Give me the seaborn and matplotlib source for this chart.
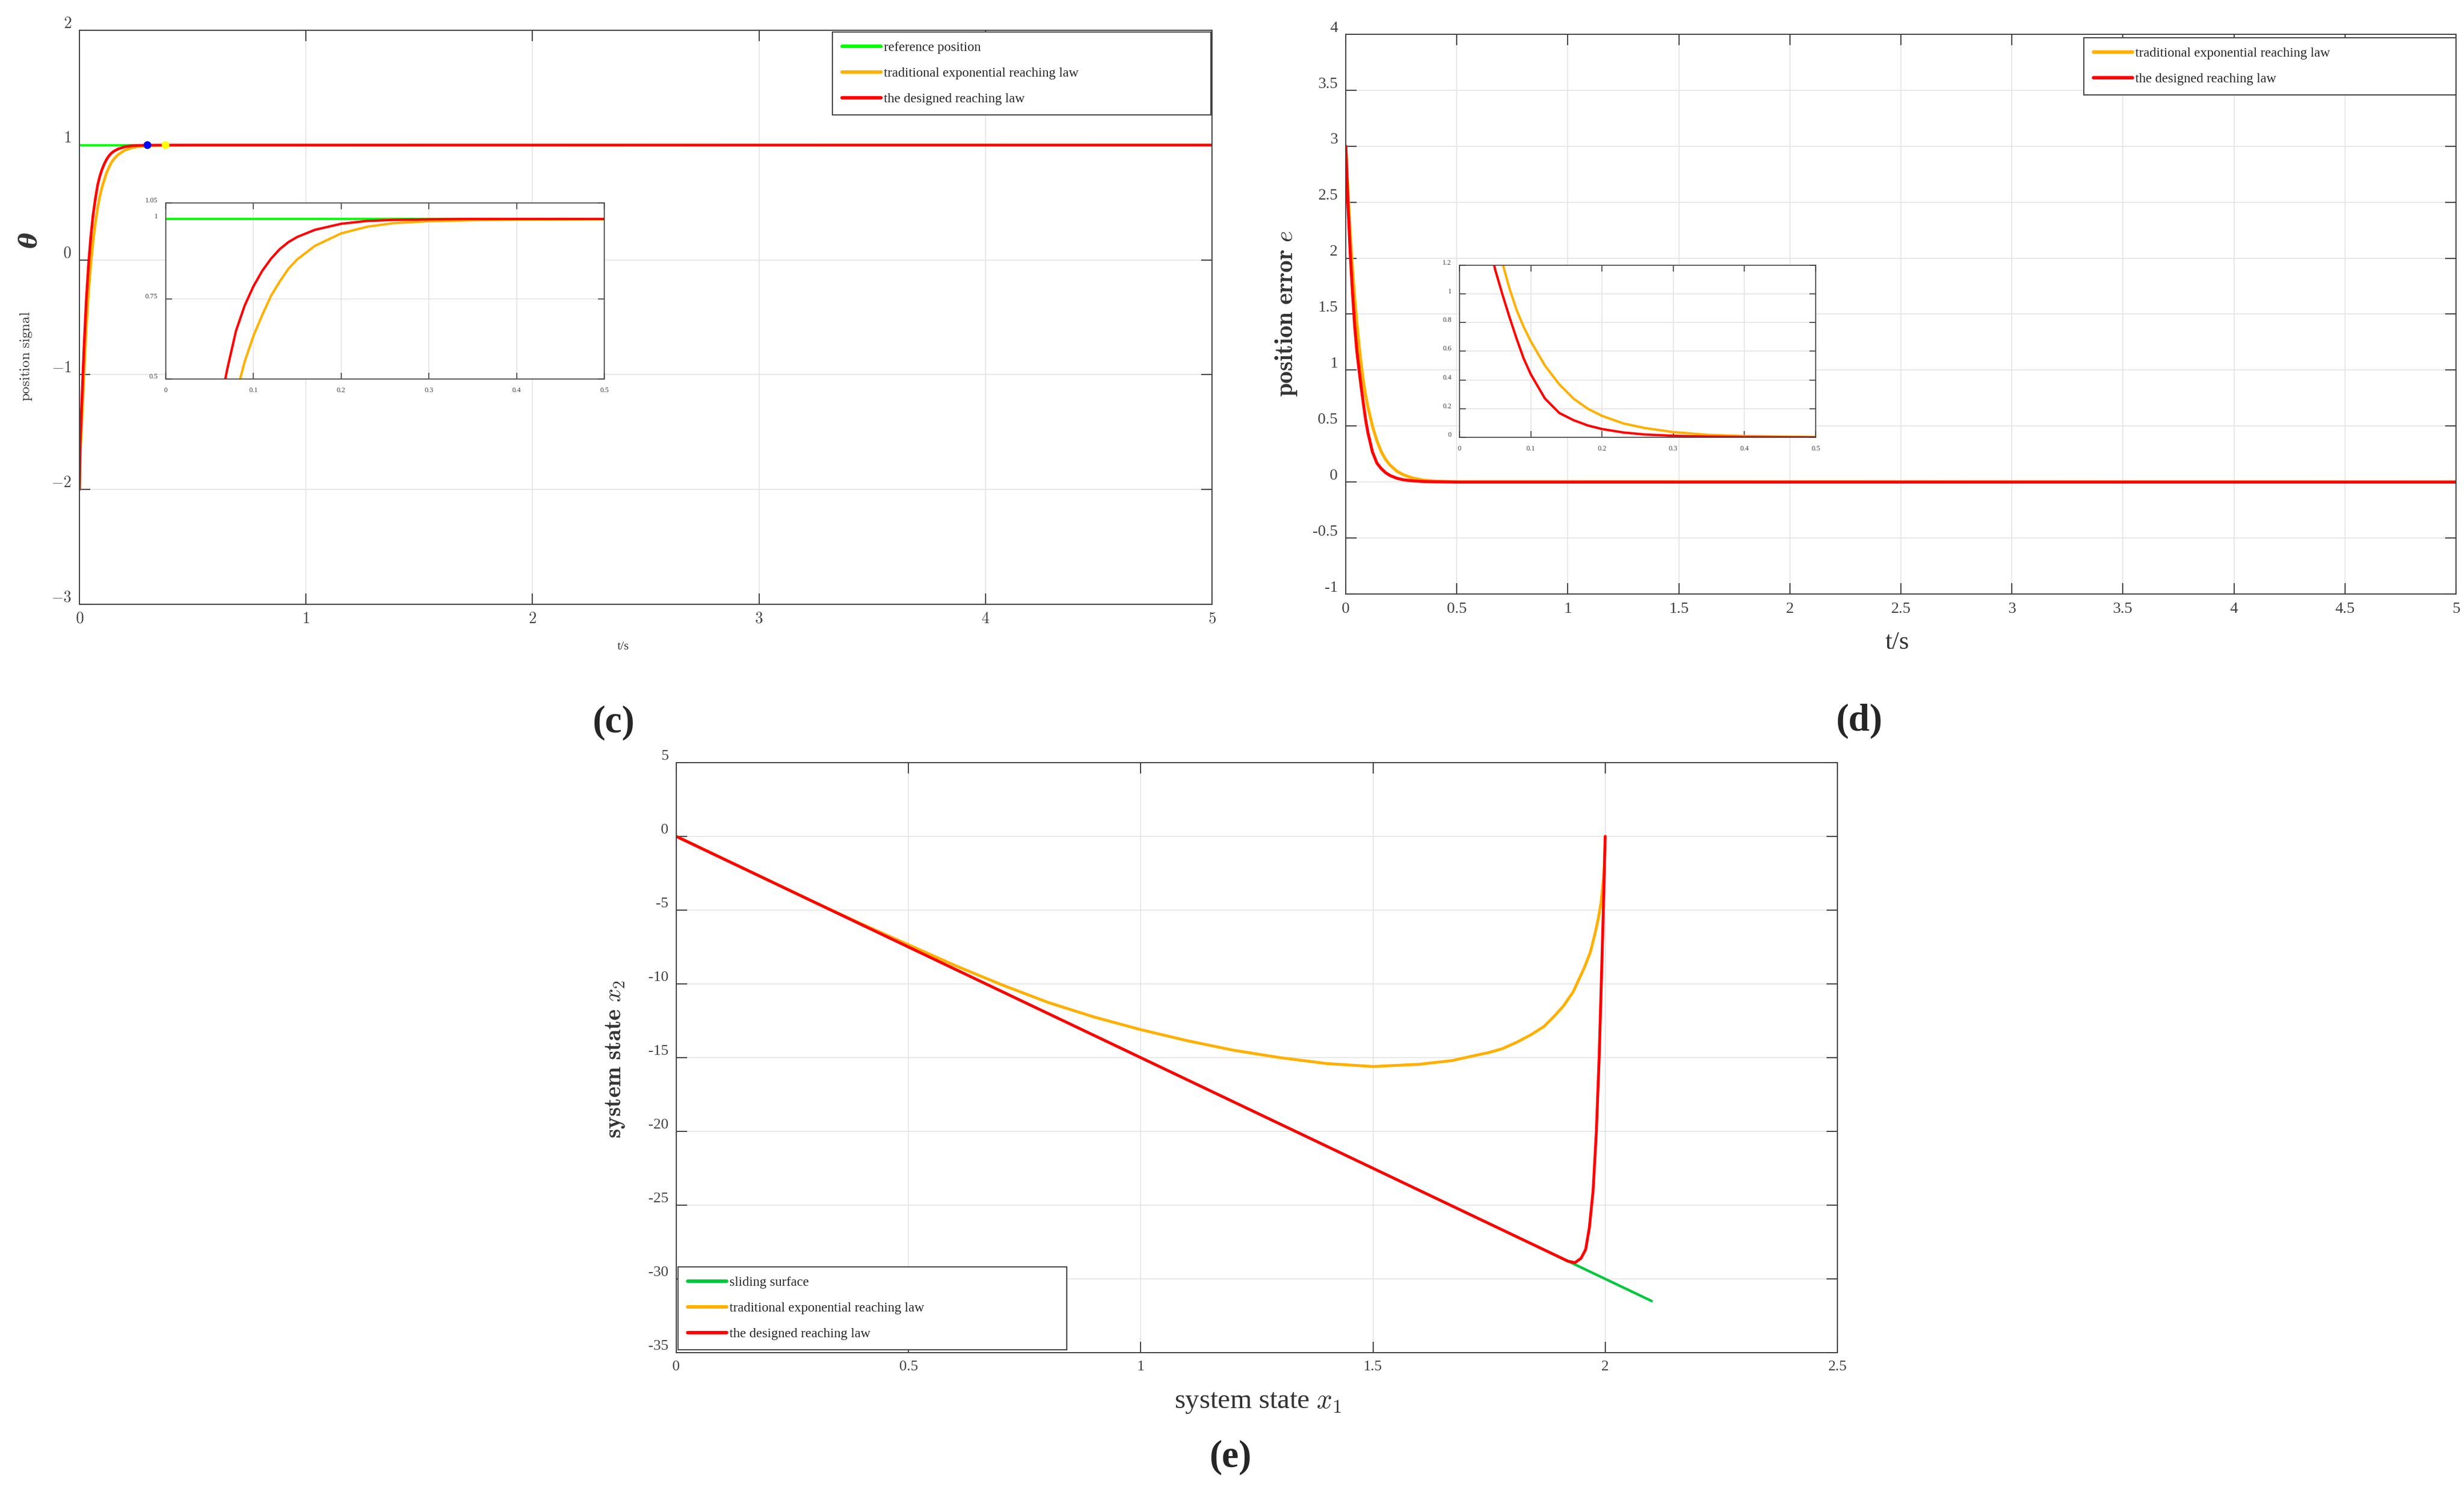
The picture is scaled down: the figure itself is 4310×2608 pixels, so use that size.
import numpy as np
import pandas as pd
import matplotlib
matplotlib.use("Agg")
import matplotlib.pyplot as plt
import matplotlib.transforms as mtransforms
import seaborn as sns
from matplotlib.ticker import FixedLocator, FuncFormatter

# -----------------------------
# Data
# -----------------------------
# (c) position signal theta(t)
t_c = [0, 0.003, 0.01, 0.02, 0.03, 0.04, 0.05, 0.06, 0.07, 0.08, 0.09, 0.1,
       0.11, 0.12, 0.13, 0.14, 0.15, 0.17, 0.2, 0.23, 0.26, 0.3, 0.35, 0.4, 0.5, 5.0]
theta_designed = [-2.0, -1.6, -1.25, -0.76, -0.35, -0.04, 0.20, 0.39, 0.53, 0.65, 0.73, 0.79,
                  0.838, 0.876, 0.906, 0.928, 0.944, 0.966, 0.985, 0.994, 0.997, 0.999, 1.0, 1.0, 1.0, 1.0]
theta_traditional = [-2.0, -1.7, -1.43, -1.0, -0.6, -0.29, -0.04, 0.16, 0.32, 0.45, 0.555, 0.635,
                     0.70, 0.76, 0.805, 0.845, 0.874, 0.916, 0.955, 0.976, 0.987, 0.993, 0.996, 0.998, 0.999, 1.0]
t_ref = [0, 5]
theta_ref = [1, 1]
settle_designed = ([0.30], [1.0])
settle_traditional = ([0.38], [1.0])

# (d) position error e(t)
t_d = [0, 0.01, 0.02, 0.03, 0.04, 0.05, 0.06, 0.07, 0.08, 0.09, 0.1, 0.12, 0.14,
       0.16, 0.18, 0.2, 0.23, 0.26, 0.3, 0.35, 0.4, 0.45, 0.5, 5.0]
e_designed = [3.0, 2.48, 2.05, 1.70, 1.40, 1.17, 1.0, 0.84, 0.69, 0.55, 0.44, 0.27, 0.17,
              0.12, 0.083, 0.058, 0.034, 0.02, 0.011, 0.005, 0.002, 0.001, 0.0, 0.0]
e_traditional = [3.0, 2.58, 2.22, 1.91, 1.65, 1.42, 1.22, 1.04, 0.89, 0.77, 0.67, 0.50, 0.37,
                 0.27, 0.20, 0.15, 0.097, 0.065, 0.037, 0.017, 0.009, 0.005, 0.002, 0.0]

# (e) phase plane x1 - x2
x1_surface = [0, 2.1]
x2_surface = [0, -31.5]
x1_designed = [0, 0.5, 1.0, 1.5, 1.9, 1.92, 1.935, 1.948, 1.958, 1.966, 1.974, 1.981,
               1.987, 1.992, 1.996, 2.0]
x2_designed = [0, -7.5, -15.0, -22.5, -28.5, -28.8, -28.9, -28.6, -28.0, -26.5, -24.0, -20.0,
               -15.0, -9.5, -5.0, 0]
x1_traditional = [0, 0.2, 0.3, 0.4, 0.5, 0.6, 0.7, 0.8, 0.9, 1.0, 1.1, 1.2, 1.3, 1.4, 1.5,
                  1.6, 1.67, 1.72, 1.75, 1.778, 1.81, 1.84, 1.868, 1.89, 1.91, 1.931, 1.955,
                  1.968, 1.978, 1.985, 1.991, 1.9955, 1.998, 2.0]
x2_traditional = [0, -3.0, -4.5, -5.95, -7.35, -8.75, -10.05, -11.25, -12.25, -13.1, -13.85,
                  -14.5, -15.0, -15.4, -15.6, -15.45, -15.2, -14.85, -14.65, -14.4, -13.95,
                  -13.45, -12.89, -12.2, -11.5, -10.54, -8.9, -7.85, -6.6, -5.6, -4.5, -3.1,
                  -2.0, 0]

# tick values
c_xticks = [0, 1, 2, 3, 4, 5]
c_yticks = [-3, -2, -1, 0, 1, 2]
c_in_xticks = [0, 0.1, 0.2, 0.3, 0.4, 0.5]
c_in_yticks = [0.5, 0.75, 1, 1.05]
d_xticks = [0, 0.5, 1, 1.5, 2, 2.5, 3, 3.5, 4, 4.5, 5]
d_yticks = [-1, -0.5, 0, 0.5, 1, 1.5, 2, 2.5, 3, 3.5, 4]
d_in_xticks = [0, 0.1, 0.2, 0.3, 0.4, 0.5]
d_in_yticks = [0, 0.2, 0.4, 0.6, 0.8, 1, 1.2]
e_xticks = [0, 0.5, 1, 1.5, 2, 2.5]
e_yticks = [-35, -30, -25, -20, -15, -10, -5, 0, 5]

lab_ref = "reference position"
lab_trad = "traditional exponential reaching law"
lab_des = "the designed reaching law"
lab_surf = "sliding surface"

GREEN = "#00FF00"
GREEN_E = "#00C83C"
ORANGE = "#FFB000"
RED = "#FF0000"
SPINE = "#404040"

# -----------------------------
# Style
# -----------------------------
sns.set_style("ticks")
plt.rcParams["font.family"] = ["Liberation Serif", "DejaVu Serif"]
plt.rcParams["mathtext.fontset"] = "cm"

W, H = 4310, 2608
fig = plt.figure(figsize=(W / 200, H / 200), dpi=200)


def axes_px(left, top, right, bottom):
    return fig.add_axes([left / W, 1 - bottom / H, (right - left) / W, (bottom - top) / H])


def style(ax, xlim, ylim, xticks, yticks, fmt, size, tlen=7, lw=0.7, lift=5):
    ax.set_xlim(*xlim)
    ax.set_ylim(*ylim)
    ax.xaxis.set_major_locator(FixedLocator(xticks))
    ax.yaxis.set_major_locator(FixedLocator(yticks))
    ax.xaxis.set_major_formatter(FuncFormatter(fmt))
    ax.yaxis.set_major_formatter(FuncFormatter(fmt))
    ax.tick_params(direction="in", length=tlen, width=lw, colors=SPINE,
                   labelsize=size, top=True, right=True, pad=5)
    ax.grid(True, color="#E4E4E4", lw=0.6)
    ax.set_axisbelow(True)
    for s in ax.spines.values():
        s.set_visible(True)
        s.set_color(SPINE)
        s.set_linewidth(lw)
    ax.set_xlabel("")
    ax.set_ylabel("")
    # y tick labels sit a little above their ticks in the original export
    shift = mtransforms.ScaledTranslation(0, lift / 72, fig.dpi_scale_trans)
    for lab in ax.get_yticklabels():
        lab.set_transform(lab.get_transform() + shift)


def cm_fmt(v, pos):
    return f"${v:g}$"


def plain_fmt(v, pos):
    return f"{v:g}"


def line(ax, x, y, color, lw, label=None):
    sns.lineplot(x=x, y=y, ax=ax, color=color, lw=lw, sort=False, estimator=None,
                 label=label, legend=label is not None)


def legend(ax, loc, anchor):
    leg = ax.legend(loc=loc, bbox_to_anchor=anchor, mode="expand", borderaxespad=0,
                    fontsize=8.5, handlelength=2.9, handletextpad=0.2, labelspacing=1.0,
                    borderpad=0.7, fancybox=False, framealpha=1)
    leg.get_frame().set_edgecolor(SPINE)
    leg.get_frame().set_linewidth(0.7)
    for h in leg.get_lines():
        h.set_linewidth(2.2)


# -----------------------------
# (c) position signal
# -----------------------------
ax_c = axes_px(139, 53, 2120, 1057)
line(ax_c, t_ref, theta_ref, GREEN, 1.4, lab_ref)
line(ax_c, t_c, theta_traditional, ORANGE, 1.7, lab_trad)
line(ax_c, t_c, theta_designed, RED, 1.7, lab_des)
sns.scatterplot(x=settle_designed[0], y=settle_designed[1], ax=ax_c, color="#0000FF",
                s=24, edgecolor="none", zorder=5, legend=False)
sns.scatterplot(x=settle_traditional[0], y=settle_traditional[1], ax=ax_c, color="#FFFF00",
                s=24, edgecolor="none", zorder=5, legend=False)
style(ax_c, (0, 5), (-3, 2), c_xticks, c_yticks, cm_fmt, 10)
legend(ax_c, "upper left", (0.665, 0.997, 0.334, 0))

ins_c = axes_px(290, 355, 1057, 663)
line(ins_c, t_ref, theta_ref, GREEN, 1.4)
line(ins_c, t_c, theta_traditional, ORANGE, 1.5)
line(ins_c, t_c, theta_designed, RED, 1.5)
style(ins_c, (0, 0.5), (0.5, 1.05), c_in_xticks, c_in_yticks, plain_fmt, 4.5,
      tlen=4, lw=0.6, lift=2)

fig.text(1090 / W, 1 - 1131 / H, "t/s", fontsize=8, color="#333333", ha="center", va="center")
fig.text(46 / W, 1 - 623 / H, r"$\mathrm{position\ signal}$", fontsize=9, color="#333333",
         rotation=90, ha="center", va="center")
fig.text(52 / W, 1 - 420 / H, "θ", fontsize=15, color="#333333", rotation=90,
         family="DejaVu Serif", style="italic", weight="bold", ha="center", va="center")

# -----------------------------
# (d) position error
# -----------------------------
ax_d = axes_px(2354, 60, 4296, 1039)
line(ax_d, t_d, e_traditional, ORANGE, 1.9, lab_trad)
line(ax_d, t_d, e_designed, RED, 1.9, lab_des)
style(ax_d, (0, 5), (-1, 4), d_xticks, d_yticks, plain_fmt, 10)
legend(ax_d, "upper left", (0.665, 0.994, 0.335, 0))

ins_d = axes_px(2553, 464, 3176, 765)
line(ins_d, t_d, e_traditional, ORANGE, 1.5)
line(ins_d, t_d, e_designed, RED, 1.5)
style(ins_d, (0, 0.5), (0, 1.2), d_in_xticks, d_in_yticks, plain_fmt, 4.5,
      tlen=4, lw=0.6, lift=2)

fig.text(3319 / W, 1 - 1124 / H, "t/s", fontsize=16, color="#333333", ha="center", va="center")
fig.text(2250 / W, 1 - 549 / H, r"$\mathbf{position\ error}\ \mathit{e}$", fontsize=15.5,
         color="#333333", rotation=90, ha="center", va="center")

# -----------------------------
# (e) phase plane
# -----------------------------
ax_e = axes_px(1183, 1334, 3214, 2366)
line(ax_e, x1_surface, x2_surface, GREEN_E, 1.6, lab_surf)
line(ax_e, x1_traditional, x2_traditional, ORANGE, 1.8, lab_trad)
line(ax_e, x1_designed, x2_designed, RED, 1.8, lab_des)
style(ax_e, (0, 2.5), (-35, 5), e_xticks, e_yticks, plain_fmt, 9.5)
legend(ax_e, "lower left", (0.0015, 0.005, 0.335, 0))

fig.text(2200 / W, 1 - 2453 / H, r"system state $x_1$", fontsize=17.5, color="#333333",
         ha="center", va="center")
fig.text(1077 / W, 1 - 1852 / H, r"$\mathbf{system\ state}\ x_2$", fontsize=15,
         color="#333333", rotation=90, ha="center", va="center")

# panel letters
for x, y, s in [(1073, 1264, "(c)"), (3252, 1261, "(d)"), (2152, 2549, "(e)")]:
    fig.text(x / W, 1 - y / H, s, fontsize=24, weight="bold", ha="center", va="center")

fig.savefig("out.png", dpi=200)
